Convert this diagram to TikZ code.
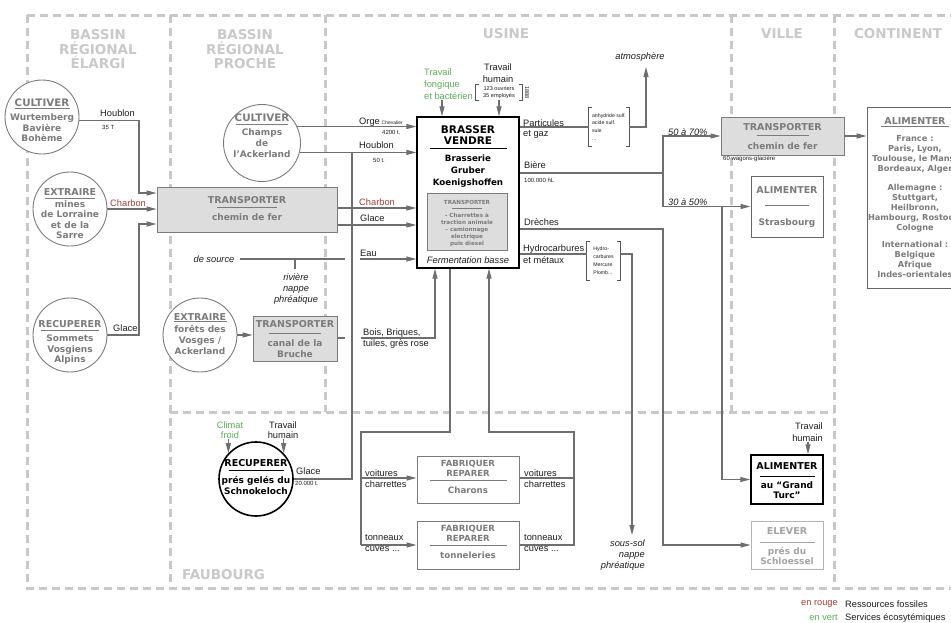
\documentclass[tikz,border=0pt]{standalone}
\usepackage{fontspec}
\setmainfont{Liberation Sans}
\newfontfamily\dvfont{DejaVu Sans}
\usetikzlibrary{arrows.meta}
\definecolor{zonec}{HTML}{C8C8C8}
\definecolor{ztxt}{HTML}{C9C9C9}
\definecolor{conn}{HTML}{6E6E6E}
\definecolor{gtxt}{HTML}{7B7B7B}
\definecolor{gfill}{HTML}{DDDDDD}
\definecolor{ltxt}{HTML}{A4A4A4}
\definecolor{lbord}{HTML}{B4B4B4}
\definecolor{rouge}{HTML}{A63C3C}
\definecolor{vert}{HTML}{58AE58}
\definecolor{lblk}{HTML}{1E1E1E}
\definecolor{bordg}{HTML}{666666}
\definecolor{brkc}{HTML}{555555}
\newcommand\sepl[3]{\\[#2]\rule{#1}{0.8pt}\\[#3]}
\newcommand\ttl[1]{{\fontsize{9.5}{10.5}\selectfont #1}}
\newcommand\ttL[1]{{\fontsize{10.3}{10.5}\selectfont #1}}
\newcommand\ttS[1]{{\fontsize{8.5}{10}\selectfont #1}}
\newcommand\ttB[1]{{\fontsize{10.5}{11.7}\selectfont #1}}
\newcommand\drawbrk[1]{%
  \draw[brk] ([xshift=3pt]#1.north west) -- (#1.north west) -- (#1.south west) -- ([xshift=3pt]#1.south west);
  \draw[brk] ([xshift=-3pt]#1.north east) -- (#1.north east) -- (#1.south east) -- ([xshift=-3pt]#1.south east);}
\tikzset{
  zone/.style={draw=zonec, line width=3pt, dash pattern=on 8pt off 5pt},
  ztitle/.style={inner sep=0pt, align=center, text=ztxt, font=\dvfont\bfseries\fontsize{13.5}{14.5}\selectfont},
  gt/.style={inner sep=0pt, align=center, text=gtxt, font=\dvfont\bfseries\fontsize{9}{10.5}\selectfont},
  bt/.style={gt, text=black},
  gcirc/.style={circle, draw=gtxt, line width=0.9pt, fill=white, inner sep=0pt, minimum size=#1},
  gbox/.style={rectangle, draw=gtxt, line width=1pt, fill=gfill, inner sep=0pt},
  wbox/.style={rectangle, draw=bordg, line width=1pt, fill=white, inner sep=0pt},
  clab/.style={inner sep=0pt, text=lblk, font=\fontsize{9.3}{11}\selectfont},
  ilab/.style={inner sep=0pt, text=lblk, font=\itshape\fontsize{9.3}{11}\selectfont},
  tinylab/.style={inner sep=0pt, text=lblk, font=\fontsize{6}{7}\selectfont},
  arr/.style={draw=conn, line width=1.1pt, -{Triangle[length=10pt,width=5pt]}},
  cline/.style={draw=conn, line width=1.1pt},
  brk/.style={draw=brkc, line width=0.7pt},
  brnode/.style={inner sep=0pt, text=lblk},
}
\begin{document}
\begin{tikzpicture}[x=1pt,y=-1pt]
\useasboundingbox (0,0) rectangle (951,622);
\fill[white] (0,0) rectangle (951,622);
\clip (0,0) rectangle (951,622);

% ---- zones
\draw[zone] (27,15) -- (951,15);
\draw[zone] (27,15) -- (27,588) -- (951,588);
\draw[zone] (170,15) -- (170,588);
\draw[zone] (325,15) -- (325,412);
\draw[zone] (731,15) -- (731,412);
\draw[zone] (834,15) -- (834,588);
\draw[zone] (170,412) -- (834,412);

\node[ztitle, anchor=north] (zE) at (98,29.3) {BASSIN\\RÉGIONAL\\ÉLARGI};
\node[ztitle, anchor=north] (zP) at (245,29.3) {BASSIN\\RÉGIONAL\\PROCHE};
\node[ztitle, anchor=north] (zU) at (506,28.3) {USINE};
\node[ztitle, anchor=north] (zV) at (782,28.3) {VILLE};
\node[ztitle, anchor=north] (zC) at (898,28.3) {CONTINENT};
\node[ztitle, anchor=north west] (zF) at (182,569) {FAUBOURG};

% ---- circles
\node[gcirc=74pt] (cW) at (42,117) {};
\node[gt, anchor=north] (tW) at (42,98.3) {\ttL{CULTIVER}\sepl{55pt}{-8.2pt}{1.8pt}Wurtemberg\\Bavière\\Bohème};
\node[gcirc=74pt] (cE) at (70,209) {};
\node[gt, anchor=north] (tE) at (70,188.5) {\ttl{EXTRAIRE}\sepl{50pt}{-7pt}{-2.2pt}mines\\de Lorraine\\et de la\\Sarre};
\node[gcirc=74pt] (cR) at (70,335) {};
\node[gt, anchor=north] (tR) at (70,320.5) {\ttl{RECUPERER}\sepl{58pt}{-7pt}{-0.2pt}Sommets\\Vosgiens\\Alpins};
\node[gcirc=77pt] (cC) at (262,143) {};
\node[gt, anchor=north, font=\dvfont\bfseries\fontsize{9}{11}\selectfont] (tC) at (262,113.3) {\ttL{CULTIVER}\sepl{52pt}{-7.8pt}{0.3pt}Champs\\de\\l’Ackerland};
\node[gcirc=74pt] (cF) at (200,335) {};
\node[gt, anchor=north, font=\dvfont\bfseries\fontsize{9}{11}\selectfont] (tF) at (200,313.5) {\ttl{EXTRAIRE}\sepl{53pt}{-9.5pt}{-0.7pt}forêts des\\Vosges /\\Ackerland};
\node[circle, draw=black, line width=1.6pt, fill=white, inner sep=0pt, minimum size=74pt] (cS) at (256,479) {};
\node[bt, anchor=north] (tS) at (256,459.5) {\ttl{RECUPERER}\sepl{55pt}{-6pt}{1.8pt}prés gelés du\\Schnokeloch};

% ---- boxes
\node[gbox, minimum width=180pt, minimum height=45pt] (bT) at (247,209.5) {};
\node[gt, anchor=north] (tT) at (247,196.5) {\ttl{TRANSPORTER}\sepl{60pt}{-6pt}{1.8pt}chemin de fer};
\node[gbox, minimum width=84pt, minimum height=45pt] (bC) at (295,338.5) {};
\node[gt, anchor=north, font=\dvfont\bfseries\fontsize{9}{11}\selectfont] (tCa) at (295,320.5) {\ttl{TRANSPORTER}\sepl{52pt}{-4.5pt}{1.3pt}canal de la\\Bruche};
\node[gbox, minimum width=123pt, minimum height=38pt] (bV) at (782.5,136) {};
\node[gt, anchor=north] (tV) at (782.5,123.5) {\ttl{TRANSPORTER}\sepl{52pt}{-5pt}{2.8pt}chemin de fer};

\node[rectangle, draw=black, line width=1.4pt, fill=white, inner sep=0pt, minimum width=102pt, minimum height=151pt] (bB) at (468,192.5) {};
\node[bt, anchor=north, font=\dvfont\bfseries\fontsize{8.7}{11.7}\selectfont] (tB) at (468,125.2) {\ttB{BRASSER}\\\ttB{VENDRE}\sepl{77pt}{-7.7pt}{1.3pt}Brasserie\\Gruber\\Koenigshoffen};
\node[gbox, line width=0.8pt, minimum width=80pt, minimum height=57pt] (bI) at (467,221.5) {};
\node[gt, anchor=north, font=\dvfont\bfseries\fontsize{5.6}{7}\selectfont] (tI) at (467,200) {TRANSPORTER\sepl{30pt}{-3pt}{2pt}- Charrettes à\\traction animale\\- camionnage\\electrique\\puis diesel};
\node[ilab] (tFb) at (468,260) {Fermentation basse};

\node[wbox, minimum width=72pt, minimum height=61pt] (bS) at (787,206.5) {};
\node[gt, anchor=north] (tSt) at (787,186.5) {\ttl{ALIMENTER}\sepl{44pt}{2pt}{8.8pt}Strasbourg};
\node[wbox, minimum width=96pt, minimum height=181pt] (bFr) at (915,197.5) {};
\node[gt, anchor=north, font=\dvfont\bfseries\fontsize{8.2}{10}\selectfont] (tFr) at (915,117.5) {\ttl{ALIMENTER}\sepl{68pt}{-7.5pt}{4.3pt}France :\\Paris, Lyon,\\Toulouse, le Mans,\\Bordeaux, Alger\\[9pt]Allemagne :\\Stuttgart,\\Heilbronn,\\Hambourg, Rostock,\\Cologne\\[7pt]International :\\Belgique\\Afrique\\Indes-orientales};
\node[rectangle, draw=black, line width=1.5pt, fill=white, inner sep=0pt, minimum width=72pt, minimum height=49pt] (bG) at (787,479.5) {};
\node[bt, anchor=north] (tG) at (787,462.5) {\ttl{ALIMENTER}\sepl{55pt}{-3pt}{0.8pt}au “Grand\\Turc”};
\node[rectangle, draw=lbord, line width=1pt, fill=white, inner sep=0pt, minimum width=72pt, minimum height=48pt] (bEl) at (787,545) {};
\node[gt, text=ltxt, anchor=north] (tEl) at (787,527.5) {\ttl{ELEVER}\sepl{55pt}{-2pt}{0.8pt}prés du\\Schloessel};
\node[wbox, draw=gtxt, minimum width=102pt, minimum height=47pt] (bF1) at (468,479.5) {};
\node[gt, anchor=north, font=\dvfont\bfseries\fontsize{8.7}{10}\selectfont] (tF1) at (468,459.9) {\ttS{FABRIQUER}\\\ttS{REPARER}\sepl{77pt}{-6.1pt}{3.3pt}Charons};
\node[wbox, draw=gtxt, minimum width=102pt, minimum height=48pt] (bF2) at (468,545) {};
\node[gt, anchor=north, font=\dvfont\bfseries\fontsize{8.7}{10}\selectfont] (tF2) at (468,524.9) {\ttS{FABRIQUER}\\\ttS{REPARER}\sepl{77pt}{-6.1pt}{3.3pt}tonneleries};

% ---- brackets and free labels
\node[brnode, minimum width=46pt, minimum height=15pt, align=center, font=\fontsize{5.6}{7.6}\selectfont] (brH) at (499,92.5) {123 ouvriers\\35 employés};
\drawbrk{brH}
\node[brnode, rotate=-90, font=\fontsize{5.6}{6}\selectfont] (y1888) at (527,92.5) {1888};
\node[brnode, minimum width=40pt, minimum height=38pt, align=left, font=\fontsize{5.2}{7.8}\selectfont] (brP) at (609,127) {anhydride sulf.\\acide sulf.\\suie\\...};
\drawbrk{brP}
\node[brnode, minimum width=33pt, minimum height=38pt, align=left, font=\fontsize{5.2}{8}\selectfont] (brHy) at (603.5,261) {Hydro-\\carbures\\Mercure\\Plomb...};
\drawbrk{brHy}

\node[ilab] (atm) at (640,57) {atmosphère};
\coordinate (atmtip) at (646,67);
\coordinate (sstip) at (632,535);
\node[ilab, align=right, anchor=north east] (ss) at (645,539.6) {sous-sol\\nappe\\phréatique};
\node[ilab] (dS) at (214,259) {de source};
\node[ilab, align=center, anchor=north] (riv) at (296,273.6) {rivière\\nappe\\phréatique};

\node[clab, text=vert, align=left, anchor=north west, font=\fontsize{9.3}{12}\selectfont] (tFo) at (424,68.6) {Travail\\fongique\\et bactérien};
\node[clab, align=center, anchor=north, font=\fontsize{9.3}{12}\selectfont] (tHu) at (498,63.6) {Travail\\humain};
\node[clab, text=vert, align=center, anchor=north, font=\fontsize{9.3}{10}\selectfont] (tCl) at (230,421.6) {Climat\\froid};
\node[clab, align=center, anchor=north, font=\fontsize{9.3}{10}\selectfont] (tTh) at (283,421.6) {Travail\\humain};
\node[clab, align=right, anchor=north east, font=\fontsize{9.3}{12}\selectfont] (tGT) at (823,422.6) {Travail\\humain};

% connector labels
\node[clab, anchor=west] (lH1) at (100,113) {Houblon};
\node[tinylab, anchor=west] (l35) at (102,127) {35 T};
\node[clab, anchor=west, text=rouge] (lC1) at (110,203) {Charbon};
\node[clab, anchor=west] (lG1) at (113,328) {Glace};
\node[clab, anchor=west] (lO) at (359,122) {Orge};
\node[brnode, anchor=west, font=\fontsize{5}{6}\selectfont] (lCh) at (381.5,123) {Chevalier};
\node[tinylab, anchor=west] (l42) at (382,132) {4200 t.};
\node[clab, anchor=west] (lH2) at (359,145) {Houblon};
\node[tinylab, anchor=west] (l50) at (373,160) {50 t.};
\node[clab, anchor=west, text=rouge] (lC2) at (359,202) {Charbon};
\node[clab, anchor=west] (lG2) at (360,218) {Glace};
\node[clab, anchor=west] (lEau) at (360,253) {Eau};
\node[clab, anchor=west] (lBo1) at (363,333) {Bois, Briques,};
\node[clab, anchor=west] (lBo2) at (363,344) {tuiles, grès rose};
\node[clab, anchor=west] (lG3) at (296,471) {Glace};
\node[tinylab, anchor=west] (l20) at (295,483) {20.000 t.};
\node[clab, anchor=west] (lv1) at (365,473) {voitures};
\node[clab, anchor=west] (lc1) at (365,484) {charrettes};
\node[clab, anchor=west] (lt1) at (365,538) {tonneaux};
\node[clab, anchor=west] (lu1) at (365,549) {cuves ...};
\node[clab, anchor=west] (lv2) at (524,473) {voitures};
\node[clab, anchor=west] (lc2) at (524,484) {charrettes};
\node[clab, anchor=west] (lt2) at (524,538) {tonneaux};
\node[clab, anchor=west] (lu2) at (524,549) {cuves ...};
\node[clab, anchor=west] (lPa) at (523,123) {Particules};
\node[clab, anchor=west] (lga) at (523,134) {et gaz};
\node[clab, anchor=west] (lBi) at (524,165) {Bière};
\node[tinylab, anchor=west] (lhl) at (524,180) {100.000 hL};
\node[clab, anchor=west] (lDr) at (524,222) {Drèches};
\node[clab, anchor=west] (lHy) at (523,249) {Hydrocarbures};
\node[clab, anchor=west] (lme) at (523,260) {et métaux};
\node[ilab, anchor=west] (l5070) at (668,132) {50 à 70\%};
\node[ilab, anchor=west] (l3050) at (668,202) {30 à 50\%};
\node[tinylab, anchor=west] (lwg) at (723,159) {60 wagons-glacière};

% legend
\node[clab, anchor=east, text=rouge] (lgr) at (838,604) {en rouge};
\node[clab, anchor=west] (lgr2) at (845,604) {Ressources fossiles};
\node[clab, anchor=east, text=vert] (lgv) at (838,618) {en vert};
\node[clab, anchor=west] (lgv2) at (845,618) {Services écosytémiques};

% ---- connectors
\draw[arr] (cW.-6) -| (139,193) -- (bT.west |- 0,193);
\draw[arr] (cE.east) -- (bT.west |- cE.east);
\draw[arr] (cR.east) -| (139,224) -- (bT.west |- 0,224);
\draw[arr] (cC.25) -- (bB.west |- cC.25);
\draw[arr] (cC.-14) -- (bB.west |- cC.-14);
\draw[cline] (cS.east) -| (352,152);
\draw[arr] (bT.east |- 0,208) -- (bB.west |- 0,208);
\draw[arr] (bT.east |- 0,225) -- (bB.west |- 0,225);
\draw[cline] ([xshift=5pt]dS.east) -- (345,259);
\draw[arr] (360,259) -- (bB.west |- 0,259);
\draw[cline] (295,259) -- (295,269);
\draw[arr] (cF.east) -- (bC.west |- cF.east);
\draw[cline] (bC.east |- 0,338) -- (345,338);
\draw[arr] (361,338) -| (bB.south -| 435,0);

\draw[cline] (bB.south -| 450,0) |- (361,432) -- (361,545);
\draw[arr] (361,478) -- (bF1.west |- 0,478);
\draw[arr] (361,545) -- (bF2.west);
\draw[cline] (bF1.east |- 0,478) -- (574,478);
\draw[arr] (bF2.east) -| (574,432) -| (bB.south -| 489,0);

\draw[cline] (bB.east |- brP.west) -- (brP.west);
\draw[arr] (brP.east) -| (atmtip);
\draw[cline] (bB.east |- 0,173) -- (663,173);
\draw[arr] (663,173) |- (bV.west);
\draw[arr] (663,173) |- (bS.west);
\draw[arr] (bV.east) -- (bFr.west |- bV.east);
\draw[arr] (722,206.5) |- (bG.west);
\draw[arr] (bB.east |- 0,229) -- (663,229) |- (bEl.west);
\draw[cline] (bB.east |- 0,254) -- (brHy.west |- 0,254);
\draw[arr] (brHy.east |- 0,254) -| (sstip);

\draw[arr] (tFo.south -| 442,0) -- (bB.north -| 442,0);
\draw[arr] (brH.south) -- (bB.north -| brH.south);
\draw[arr] (tCl.south -| cS.137) -- (cS.137);
\draw[arr] (tTh.south -| cS.43) -- (cS.43);
\draw[arr] (tGT.south -| 808,0) -- (bG.north -| 808,0);
\end{tikzpicture}
\end{document}
